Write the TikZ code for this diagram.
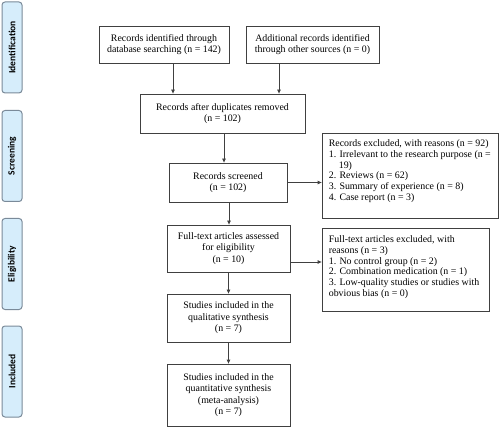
\documentclass[tikz,border=0pt]{standalone}
\usepackage{fontspec}
\setmainfont{Liberation Serif}
\newfontfamily\phasefont{Carlito}
\usetikzlibrary{arrows.meta}
\definecolor{phasefill}{HTML}{D6EDFB}
\definecolor{phaseline}{HTML}{7A8A99}
\definecolor{boxline}{HTML}{404040}
\tikzset{
  flowbox/.style={draw=boxline, line width=0.8pt, fill=white, align=center,
    font=\fontsize{9.9}{11.4}\selectfont, inner sep=2pt},
  exbox/.style={draw=boxline, line width=0.8pt, fill=white},
  extext/.style={anchor=north west, align=left, inner sep=0pt,
    font=\fontsize{9.9}{10.7}\selectfont},
  phase/.style={draw=phaseline, line width=1pt, fill=phasefill, rounded corners=3pt,
    minimum width=20pt, minimum height=91pt, inner sep=0pt},
  phasetext/.style={rotate=90, font=\phasefont\bfseries\fontsize{9.5}{10}\selectfont},
  arr/.style={draw=boxline, line width=0.8pt, -{Triangle[length=4pt,width=3.5pt]}}
}
\begin{document}
\begin{tikzpicture}[x=1pt,y=-1pt]
\useasboundingbox (0,0) rectangle (500,427);
% phase labels
\node[phase] (p1) at (12,47.5) {};
\node[phasetext] at (p1) {Identification};
\node[phase] (p2) at (12,156) {};
\node[phasetext] at (p2) {Screening};
\node[phase] (p3) at (12,264) {};
\node[phasetext] at (p3) {Eligibility};
\node[phase] (p4) at (12,371.5) {};
\node[phasetext] at (p4) {Included};
% main boxes
\node[flowbox, minimum width=130pt, minimum height=37pt] (id1) at (164,44.5)
  {Records identified through\\database searching (n = 142)};
\node[flowbox, minimum width=133pt, minimum height=37pt] (id2) at (312.5,44.5)
  {Additional records identified\\through other sources (n = 0)};
\node[flowbox, minimum width=165pt, minimum height=39pt] (dup) at (222.5,113.5)
  {Records after duplicates removed\\(n = 102)};
\node[flowbox, minimum width=118pt, minimum height=39pt] (scr) at (228,182.5)
  {Records screened\\(n = 102)};
\node[flowbox, minimum width=123pt, minimum height=47pt] (ft) at (228.5,248.5)
  {Full-text articles assessed\\for eligibility\\(n = 10)};
\node[flowbox, minimum width=123pt, minimum height=48pt] (qual) at (228.5,318)
  {Studies included in the\\qualitative synthesis\\(n = 7)};
\node[flowbox, minimum width=123pt, minimum height=62pt] (quant) at (228.5,395)
  {Studies included in the\\quantitative synthesis\\(meta-analysis)\\(n = 7)};
% exclusion boxes
\node[exbox, minimum width=176pt, minimum height=85pt] (ex1) at (410,175.5) {};
\node[extext] at ([xshift=7pt,yshift=-7pt]ex1.north west)
  {Records excluded, with reasons (n = 92)\\
   1. Irrelevant to the research purpose (n =\\
   \hspace*{10pt}19)\\
   2. Reviews (n = 62)\\
   3. Summary of experience (n = 8)\\
   4. Case report (n = 3)};
\node[exbox, minimum width=167pt, minimum height=83pt] (ex2) at (405.5,269.5) {};
\node[extext] at ([xshift=7pt,yshift=-8pt]ex2.north west)
  {Full-text articles excluded, with\\
   reasons (n = 3)\\
   1. No control group (n = 2)\\
   2. Combination medication (n = 1)\\
   3. Low-quality studies or studies with\\
   obvious bias (n = 0)};
% connectors
\draw[arr] ([xshift=9pt]id1.south) -- ([xshift=9pt]id1.south |- dup.north);
\draw[arr] ([xshift=-33.5pt]id2.south) -- ([xshift=-33.5pt]id2.south |- dup.north);
\draw[arr] ([xshift=1.5pt]dup.south) -- ([xshift=1.5pt]dup.south |- scr.north);
\draw[arr] ([xshift=1pt]scr.south) -- ([xshift=1pt]scr.south |- ft.north);
\draw[arr] (scr.east) -- (scr.east -| ex1.west);
\draw[arr] ([yshift=-13.5pt]ft.east) -- ([yshift=-13.5pt]ft.east -| ex2.west);
\draw[arr] (ft.south) -- (qual.north);
\draw[arr] (qual.south) -- (quant.north);
\end{tikzpicture}
\end{document}
